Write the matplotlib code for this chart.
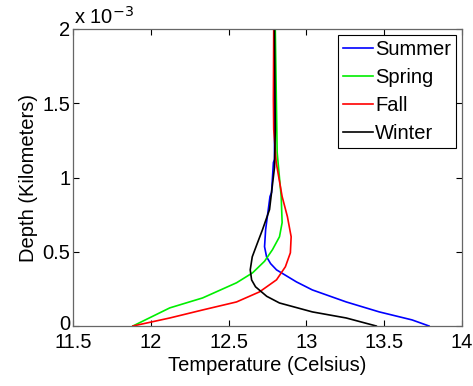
import matplotlib
matplotlib.use("Agg")
import matplotlib.pyplot as plt
import matplotlib.transforms as mtransforms
from matplotlib.ticker import FixedLocator, FixedFormatter

plt.rcParams['font.family'] = ['Liberation Sans', 'DejaVu Sans']

# Depth in units of 1e-3 km, temperature in Celsius
summer_depth = [2.0, 1.122, 1.101, 0.899, 0.872, 0.649, 0.534, 0.466, 0.420, 0.378, 0.297, 0.243, 0.162, 0.095, 0.041, 0.0]
summer_temp  = [12.795, 12.795, 12.788, 12.776, 12.766, 12.738, 12.731, 12.744, 12.770, 12.808, 12.936, 13.038, 13.256, 13.468, 13.679, 13.788]

spring_depth = [2.0, 1.169, 0.872, 0.696, 0.601, 0.514, 0.436, 0.358, 0.291, 0.189, 0.122, 0.0]
spring_temp  = [12.80, 12.812, 12.838, 12.844, 12.827, 12.782, 12.731, 12.654, 12.551, 12.333, 12.122, 11.885]

fall_depth = [2.0, 1.527, 1.324, 1.101, 0.872, 0.736, 0.601, 0.493, 0.399, 0.311, 0.230, 0.162, 0.108, 0.054, 0.0]
fall_temp  = [12.79, 12.788, 12.79, 12.806, 12.844, 12.878, 12.902, 12.897, 12.865, 12.808, 12.699, 12.551, 12.333, 12.122, 11.885]

winter_depth = [2.0, 1.324, 1.068, 0.784, 0.649, 0.561, 0.466, 0.378, 0.310, 0.264, 0.200, 0.155, 0.095, 0.054, 0.0]
winter_temp  = [12.795, 12.80, 12.795, 12.763, 12.718, 12.686, 12.652, 12.639, 12.648, 12.673, 12.745, 12.827, 13.038, 13.256, 13.449]

x_ticks = [11.5, 12, 12.5, 13, 13.5, 14]
x_tick_labels = ['11.5', '12', '12.5', '13', '13.5', '14']
y_ticks = [0, 0.5, 1, 1.5, 2]
y_tick_labels = ['0', '0.5', '1', '1.5', '2']

W, H = 473, 386
fig = plt.figure(figsize=(W / 100, H / 100), dpi=100)
ax = fig.add_axes([73 / W, 1 - 326 / H, (462 - 73) / W, (326 - 29) / H])

lw = 1.2
ax.plot(summer_temp, summer_depth, color='#0000ff', lw=lw, label='Summer')
ax.plot(spring_temp, spring_depth, color='#00ee00', lw=lw, label='Spring')
ax.plot(fall_temp, fall_depth, color='#ff0000', lw=lw, label='Fall')
ax.plot(winter_temp, winter_depth, color='#000000', lw=lw, label='Winter')

ax.set_xlim(11.5, 14)
ax.set_ylim(0, 2)
ax.xaxis.set_major_locator(FixedLocator(x_ticks))
ax.xaxis.set_major_formatter(FixedFormatter(x_tick_labels))
ax.yaxis.set_major_locator(FixedLocator(y_ticks))
ax.yaxis.set_major_formatter(FixedFormatter(y_tick_labels))

fs = 14.5
ax.tick_params(direction='in', top=True, right=True, length=4, width=0.8,
               colors='#000000', labelsize=fs, pad=2)
ax.tick_params(axis='x', pad=5)
for s in ax.spines.values():
    s.set_color('#666666')
    s.set_linewidth(0.9)

# nudge the "0" depth label up slightly, as in the reference
fig.canvas.draw()
zero_lbl = ax.get_yticklabels()[0]
zero_lbl.set_transform(zero_lbl.get_transform() +
                       mtransforms.ScaledTranslation(0, 3 / 100, fig.dpi_scale_trans))

ax.set_xlabel('Temperature (Celsius)', fontsize=fs, labelpad=3)
ax.set_ylabel('Depth (Kilometers)', fontsize=fs, labelpad=3)

fig.text(74 / W, 1 - 28 / H, r'x 10$^{-3}$', fontsize=fs, ha='left', va='bottom')

leg = ax.legend(loc='upper right', fontsize=fs, frameon=True, fancybox=False,
                edgecolor='#000000', framealpha=1, handlelength=1.5,
                handletextpad=0.1, labelspacing=0.45, borderpad=0.25,
                borderaxespad=0.3)
leg.get_frame().set_linewidth(0.8)

fig.savefig('out.png', dpi=100)
